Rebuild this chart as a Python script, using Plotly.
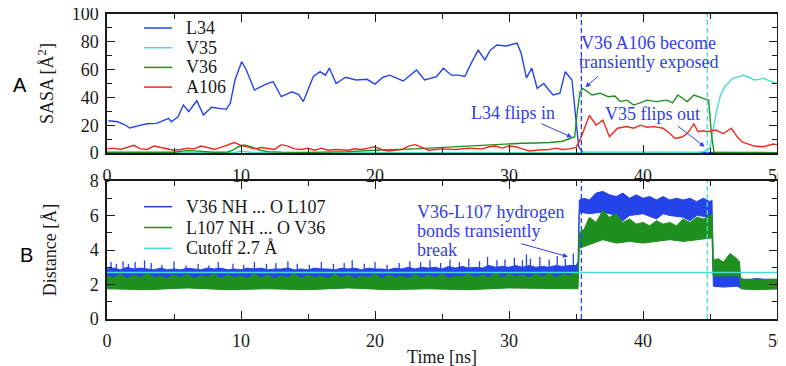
import plotly.graph_objects as go

# ---------------- Panel A: SASA (Å^2) vs time (ns) ----------------
l34_t = [0.1, 0.8, 1.3, 1.7, 2.3, 3.0, 3.7, 4.2, 4.6, 4.8, 5.3, 5.7, 6.1, 6.7, 7.2,
         7.8, 8.4, 8.9, 9.2, 9.55, 10.05, 10.4, 11.0, 11.7, 12.4, 13.0, 13.8, 14.3, 14.65, 15.0,
         15.4, 15.9, 16.3, 16.6, 17.1, 17.8, 18.6, 19.4, 20.0, 20.6, 21.1, 22.1, 23.1, 23.7, 24.6,
         25.1, 25.7, 26.2, 26.7, 27.2, 27.7, 28.2, 28.6, 29.1, 29.8, 30.6, 30.9, 31.3, 31.7, 32.1,
         32.6, 33.0, 33.3, 33.8, 34.2, 34.7, 34.9, 35.2, 35.5, 40.0, 45.0, 46.0, 50.0]
l34_v = [23.2, 22.5, 20.5, 18.0, 19.5, 21.0, 21.3, 23.5, 25.0, 22.5, 26.0, 34.5, 29.7, 37.6, 27.3,
         32.9, 32.0, 31.4, 35.8, 52.5, 65.7, 59.7, 45.3, 48.9, 51.3, 40.5, 44.0, 42.0, 37.0, 46.0,
         55.0, 58.5, 56.0, 61.0, 50.0, 54.5, 52.5, 53.0, 49.6, 54.5, 56.0, 51.8, 59.7, 52.5, 55.0,
         61.0, 56.0, 56.0, 55.0, 65.0, 74.0, 67.0, 74.0, 77.7, 77.0, 79.0, 72.0, 54.0, 61.0, 46.5,
         50.0, 45.0, 41.7, 43.0, 58.5, 52.5, 33.0, 4.5, 0.5, 0.3, 0.5, 0.3, 0.2]

v35_t = [0, 9.5, 10, 10.5, 11, 44, 44.5, 44.9, 45.0, 45.2, 45.5, 45.8, 46.1, 46.7, 47.1,
         47.5, 47.9, 48.3, 48.7, 49.0, 49.4, 49.7, 50]
v35_v = [0.2, 0.2, 1.2, 0.8, 0.2, 0.3, 1.0, 3.0, 4.0, 15, 31, 42, 47.7, 53.7, 55,
         56, 54.5, 52.5, 53, 53.7, 52, 51, 50]

v36_t = [0, 2, 4, 5, 5.5, 6, 6.5, 7, 8, 9, 9.4, 9.8, 10.2, 10.6, 11.0, 11.5, 12, 13, 15, 17,
         18, 20, 21, 22, 23, 24, 25, 26, 27, 28, 29, 30, 31, 32, 33, 34, 34.5, 34.9, 35.1, 35.3,
         35.5, 36.2, 36.8, 37.4, 37.9, 38.3, 38.8, 39.3, 39.8, 40.3, 41.0, 41.8, 42.2, 42.6, 43.0,
         43.3, 43.8, 44.2, 44.5, 44.9, 45.1, 45.3, 50]
v36_v = [0.5, 0.3, 0.3, 0.5, 1.2, 1.8, 1.5, 1.0, 0.5, 0.7, 2.0, 4.5, 5.8, 5.0, 3.5, 1.8, 1.0, 0.6, 0.4, 0.6,
         1.0, 2.0, 2.2, 2.5, 3.0, 3.5, 4.0, 4.5, 5.5, 6.0, 6.0, 6.5, 7.0, 7.2, 7.5, 8.5, 10.0, 11.7, 30.0, 44.0,
         46.5, 41.7, 43.0, 40.5, 41.0, 37.0, 38.0, 34.5, 36.0, 38.0, 37.0, 38.0, 36.0, 41.7, 39.0,
         37.0, 41.7, 40.0, 39.3, 38.0, 14.0, 0.5, 0.3]

a106_t = [0, 0.5, 1, 1.5, 2, 2.5, 3, 3.5, 4, 4.5, 5, 5.5, 6, 6.5, 7, 7.5, 8, 8.5, 9, 9.5,
          10, 10.5, 11, 11.5, 12, 12.5, 13, 13.5, 14, 14.5, 15, 15.5, 16, 16.5, 17, 18, 18.5, 19, 19.5, 20,
          20.5, 21, 22, 22.5, 23, 23.5, 24, 24.5, 25, 26, 27, 28, 28.5, 29, 29.5, 30, 30.5, 31, 31.5, 32,
          33, 33.5, 34, 34.5, 35, 35.3, 36.0, 36.5, 37.0, 37.5, 38.1, 38.8, 39.3, 39.8, 40.3,
          40.8, 41.5, 42.0, 42.4, 42.9, 43.3, 43.8, 44.1, 44.5, 44.8, 45.4, 46.0, 46.6, 47.0, 47.4,
          47.9, 48.3, 49.0, 49.4, 49.7, 50]
a106_v = [3, 3.5, 2.5, 4, 5.5, 3, 2.5, 5, 4, 3, 2, 2.5, 3.5, 3, 5, 4, 2.5, 4, 6, 7.5,
          5.5, 4, 3, 4, 3, 2.5, 6, 5, 3, 2.5, 3.5, 2, 3.5, 2, 2.5, 2, 3, 2.5, 3.5, 4.5,
          2.5, 1.5, 2.5, 5, 6, 4, 2, 2.5, 3, 2.5, 3.5, 3, 4.5, 5, 3.5, 5, 4.5, 3, 1.5, 2,
          2.5, 3.5, 2.5, 3, 4, 9.4, 27, 20, 23.7, 11.7, 17.8, 19, 17.8, 20, 18.5,
          19, 17.8, 14, 10.5, 11.5, 14, 20.9, 15.3, 16, 15.3, 16.5, 14, 17.8, 12, 8,
          6.5, 5, 4.5, 5.5, 6.5, 6]

# ---------------- Panel B: H-bond distances (Å), envelopes of noisy traces ----------------
hb1_up_t = [0, 0.5, 1, 1.5, 2, 2.5, 3, 3.5, 4, 4.5, 5, 5.5, 6, 6.5, 7, 7.5, 8, 8.5, 9, 9.5,
            10, 10.5, 11, 11.5, 12, 12.5, 13, 13.5, 14, 14.5, 15, 15.5, 16, 16.5, 17, 17.5, 18, 18.5, 19, 19.5,
            20, 20.5, 21, 21.5, 22, 22.5, 23, 23.5, 24, 24.5, 25, 25.5, 26, 26.5, 27, 27.5, 28, 28.5, 29, 29.5,
            30, 30.5, 31, 31.5, 32, 32.5, 33, 33.5, 34, 34.5, 35,
            35.15, 35.25, 35.6, 36, 36.5, 37, 37.5, 38, 38.5, 39, 39.5, 40, 40.5, 41, 41.5, 42, 42.5, 43, 43.5,
            44, 44.5, 45, 45.15, 45.25, 45.5, 46, 46.5, 47, 47.2, 47.5, 48, 48.5, 49, 49.5, 50]
hb1_up_v = [2.9, 2.95, 2.85, 3.0, 2.9, 2.95, 2.9, 2.85, 2.95, 2.85, 2.9, 2.85, 2.95, 2.9, 2.85, 2.95, 2.9, 2.95, 2.85, 2.9,
            2.85, 2.95, 2.9, 2.95, 2.85, 2.9, 2.9, 2.95, 2.85, 2.9, 2.85, 2.95, 2.9, 2.9, 2.85, 2.95, 2.9, 2.95, 2.85, 2.95,
            2.9, 2.9, 2.85, 2.95, 2.9, 3.0, 2.9, 3.0, 2.95, 3.0, 2.9, 3.05, 2.95, 3.05, 2.95, 3.0, 2.95, 3.1, 3.0, 3.05,
            3.0, 3.1, 3.0, 3.1, 3.0, 3.05, 3.0, 3.1, 3.05, 3.1, 3.1,
            3.3, 6.9, 7.0, 6.9, 7.3, 7.4, 7.2, 7.1, 7.3, 7.0, 7.2, 7.0, 7.1, 6.9, 7.1, 6.9, 7.0, 6.9, 7.0,
            6.8, 7.0, 6.8, 6.9, 2.6, 2.5, 2.6, 2.7, 2.6, 2.4, 2.3, 2.3, 2.35, 2.3, 2.3, 2.3]
hb1_lo_t = [0, 5, 10, 15, 20, 25, 30, 35.15, 35.25, 36, 37, 38, 38.5, 39, 40, 41, 41.5, 42, 43, 43.5,
            44, 45, 45.15, 45.25, 46, 47, 47.5, 50]
hb1_lo_v = [2.3, 2.2, 2.25, 2.2, 2.25, 2.2, 2.25, 2.25, 6.2, 6.1, 6.2, 6.0, 5.7, 6.0, 6.1, 5.8, 6.1, 6.0, 5.9, 5.7,
            6.0, 5.9, 5.9, 1.9, 1.85, 1.9, 1.75, 1.75]
# isolated upward excursions of the V36 NH ... O L107 trace
hb1_spk_base = 2.85
hb1_spk_t = [0.3, 0.7, 1.2, 1.6, 2.1, 2.8, 3.3, 4.1, 5.0, 5.9, 6.8, 7.6, 8.3, 9.4, 10.2, 11.0, 11.9, 12.6,
             13.5, 14.2, 15.1, 16.0, 16.9, 17.7, 18.3, 19.2, 20.0, 20.9, 21.8, 22.6, 23.4, 24.1, 24.9,
             25.6, 26.3, 27.0, 27.8, 28.4, 29.1, 29.7, 30.4, 31.0, 31.3, 31.6, 32.3, 33.0, 33.6, 34.2, 34.8]
hb1_spk_v = [3.3, 3.2, 3.35, 3.2, 3.3, 3.4, 3.25, 3.15, 3.35, 3.1, 3.2, 3.1, 3.3, 3.2, 3.15, 3.3, 3.2, 3.25,
             3.35, 3.2, 3.15, 3.3, 3.2, 3.25, 3.4, 3.2, 3.3, 3.15, 3.25, 3.35, 3.3, 3.4, 3.25,
             3.45, 3.3, 3.5, 3.35, 3.6, 3.4, 3.45, 3.55, 3.4, 3.75, 3.5, 3.6, 3.45, 3.65, 3.5, 3.8]

hb2_up_t = hb1_up_t[:71] + [35.15, 35.25, 35.6, 36, 36.5, 37, 37.5, 38, 38.5, 39, 39.5, 40, 40.5, 41, 41.5,
                            42, 42.5, 43, 43.5, 44, 44.5, 45, 45.15, 45.25, 45.6, 46, 46.5, 47, 47.2, 47.3,
                            48, 49, 50]
hb2_up_v = [2.5, 2.4, 2.6, 2.35, 2.55, 2.4, 2.65, 2.4, 2.5, 2.35, 2.55, 2.4, 2.6, 2.35, 2.5, 2.45, 2.6, 2.35, 2.55, 2.4,
            2.5, 2.35, 2.6, 2.4, 2.55, 2.35, 2.5, 2.4, 2.6, 2.35, 2.55, 2.4, 2.5, 2.35, 2.6, 2.4, 2.55, 2.35, 2.5, 2.4,
            2.6, 2.35, 2.55, 2.4, 2.5, 2.35, 2.6, 2.4, 2.55, 2.4, 2.6, 2.35, 2.5, 2.45, 2.6, 2.4, 2.55, 2.4, 2.65, 2.4,
            2.6, 2.45, 2.55, 2.4, 2.6, 2.45, 2.65, 2.4, 2.6, 2.5, 2.7,
            2.7, 5.0, 5.2, 5.9, 5.6, 6.3, 5.9, 6.1, 5.6, 5.8, 5.5, 5.6, 5.4, 5.7, 5.5,
            5.6, 5.4, 5.8, 5.6, 5.9, 5.8, 6.0, 6.1, 3.4, 3.5, 3.3, 3.8, 3.5, 3.3, 2.3,
            2.3, 2.3, 2.3]
hb2_lo_t = [0, 3, 6, 9, 12, 15, 18, 21, 24, 27, 30, 33, 35.15, 35.25, 36, 37, 38, 39, 40, 41,
            42, 43, 44, 45, 45.15, 45.25, 47.2, 47.3, 48.5, 50]
hb2_lo_v = [1.75, 1.7, 1.8, 1.7, 1.75, 1.7, 1.8, 1.7, 1.75, 1.7, 1.8, 1.75, 1.75, 4.1, 4.3, 4.6, 4.4, 4.5, 4.4, 4.5,
            4.6, 4.5, 4.6, 4.7, 4.7, 2.5, 2.5, 1.75, 1.7, 1.75]

cutoff_t = [0, 50]
cutoff_v = [2.7, 2.7]

event_t = [35.4, 44.8]          # dashed event markers (ns)

legend_a = ["L34", "V35", "V36", "A106"]
legend_b = ["V36 NH ... O L107", "L107 NH ... O V36", "Cutoff 2.7 Å"]

# ---------------- styling ----------------
BLUE = "#2444ea"
GREEN = "#1f8f1f"
RED = "#f0291c"
CYAN = "#46ddd0"
TXT = "#2f40ea"
AXC = "#1a1a1a"
SERIF = "Liberation Serif"
BODY = 8                      # default page margin of the html body
W, H = 786, 366
ML, MT = 107 - BODY, 14 - BODY
PW, PH = 670, 305
MR = W - ML - PW
MB = H - MT - PH


def px(xp):
    return (xp - 107) / PW


def py(yp):
    return (319 - yp) / PH


fig = go.Figure()

colors_a = [BLUE, CYAN, GREEN, RED]
for name, t, v, c in zip(legend_a, [l34_t, v35_t, v36_t, a106_t], [l34_v, v35_v, v36_v, a106_v], colors_a):
    fig.add_trace(go.Scatter(x=t, y=v, mode="lines", name=name, showlegend=False,
                             line=dict(color=c, width=1.4), xaxis="x", yaxis="y"))

spk_x, spk_y = [], []
for t, v in zip(hb1_spk_t, hb1_spk_v):
    spk_x += [t, t, None]
    spk_y += [hb1_spk_base, v, None]

for lo_t, lo_v, up_t, up_v, c, name in [(hb1_lo_t, hb1_lo_v, hb1_up_t, hb1_up_v, BLUE, legend_b[0]),
                                         (hb2_lo_t, hb2_lo_v, hb2_up_t, hb2_up_v, GREEN, legend_b[1])]:
    if c == BLUE:
        fig.add_trace(go.Scatter(x=spk_x, y=spk_y, mode="lines", showlegend=False,
                                 line=dict(color=c, width=1.3), xaxis="x2", yaxis="y2"))
    fig.add_trace(go.Scatter(x=lo_t, y=lo_v, mode="lines", showlegend=False,
                             line=dict(color=c, width=1), xaxis="x2", yaxis="y2"))
    fig.add_trace(go.Scatter(x=up_t, y=up_v, mode="lines", name=name, showlegend=False, fill="tonexty",
                             fillcolor=c, line=dict(color=c, width=1), xaxis="x2", yaxis="y2"))

fig.add_trace(go.Scatter(x=cutoff_t, y=cutoff_v, mode="lines", name=legend_b[2], showlegend=False,
                         line=dict(color=CYAN, width=1.6), xaxis="x2", yaxis="y2"))

# event markers
shapes = []
for xa, ya in [("x", "y"), ("x2", "y2")]:
    for t, c in zip(event_t, [BLUE, CYAN]):
        shapes.append(dict(type="line", xref=xa, yref=ya + " domain", x0=t, x1=t, y0=0, y1=1,
                           line=dict(color=c, width=1.3, dash="5px,3px")))

annotations = []
# manual legends
for i, (name, c) in enumerate(zip(legend_a, colors_a)):
    yc = py(28 + 19.7 * i)
    shapes.append(dict(type="line", xref="paper", yref="paper", x0=px(144), x1=px(172), y0=yc, y1=yc,
                       line=dict(color=c, width=1.5)))
    annotations.append(dict(xref="paper", yref="paper", x=px(184), y=yc, text=name, showarrow=False,
                            xanchor="left", yanchor="middle", font=dict(family=SERIF, size=18, color=AXC)))
for i, (name, c) in enumerate(zip(legend_b, [BLUE, GREEN, CYAN])):
    yc = py(206.7 + 20.8 * i)
    shapes.append(dict(type="line", xref="paper", yref="paper", x0=px(144), x1=px(172), y0=yc, y1=yc,
                       line=dict(color=c, width=1.5)))
    annotations.append(dict(xref="paper", yref="paper", x=px(184), y=yc, text=name, showarrow=False,
                            xanchor="left", yanchor="middle", font=dict(family=SERIF, size=18, color=AXC)))

# text callouts (one annotation per line)
tf = dict(family=SERIF, size=18, color=TXT)
for txt, x, y, xr, yr, anc in [
    ("V36 A106 become", 40.4, 79.5, "x", "y", "center"),
    ("transiently exposed", 40.4, 65.8, "x", "y", "center"),
    ("L34 flips in", 30.3, 28.8, "x", "y", "center"),
    ("V35 flips out", 40.7, 28.0, "x", "y", "center"),
    ("V36-L107 hydrogen", 23.0, 6.2, "x2", "y2", "left"),
    ("bonds transiently", 23.0, 5.1, "x2", "y2", "left"),
    ("break", 23.0, 4.0, "x2", "y2", "left"),
]:
    annotations.append(dict(xref=xr, yref=yr, x=x, y=y, text=txt, showarrow=False, xanchor=anc,
                            yanchor="middle", font=tf))

for (x0, y0, x1, y1, xr, yr) in [(36.75, 56.1, 35.7, 47.3, "x", "y"),
                                 (32.3, 21.6, 34.7, 11.3, "x", "y"),
                                 (42.5, 20.1, 44.6, 4.5, "x", "y"),
                                 (30.8, 4.39, 34.4, 3.61, "x2", "y2")]:
    annotations.append(dict(xref=xr, yref=yr, axref=xr, ayref=yr, x=x1, y=y1, ax=x0, ay=y0, text="",
                            showarrow=True, arrowhead=2, arrowsize=1, arrowwidth=1, arrowcolor=TXT))

# panel letters
annotations.append(dict(xref="paper", yref="paper", x=px(20), y=py(85), text="A", showarrow=False,
                        xanchor="center", yanchor="middle",
                        font=dict(family="Liberation Sans", size=20, color="black")))
annotations.append(dict(xref="paper", yref="paper", x=px(26), y=py(255), text="B", showarrow=False,
                        xanchor="center", yanchor="middle",
                        font=dict(family="Liberation Sans", size=20, color="black")))

axis_common = dict(showline=True, linecolor=AXC, linewidth=1.5, mirror="allticks", ticks="inside",
                   ticklen=8, tickwidth=1.3, tickcolor=AXC, showgrid=False, zeroline=False,
                   ticklabelstandoff=3, automargin=False, ticklabeloverflow="allow",
                   tickfont=dict(family=SERIF, size=18, color=AXC))

top_bottom = py(153)
bot_top = py(181)

fig.update_layout(
    width=W, height=H, margin=dict(l=ML, r=MR, t=MT, b=MB, autoexpand=False),
    paper_bgcolor="white", plot_bgcolor="white", showlegend=False,
    xaxis=dict(axis_common, domain=[0, 1], anchor="y", range=[0, 50], tick0=0, dtick=10,
               ticklabelstandoff=6,
               minor=dict(ticks="inside", ticklen=5, dtick=5, tickcolor=AXC, tickwidth=1.2)),
    yaxis=dict(axis_common, domain=[top_bottom, 1], anchor="x", range=[0, 100], tick0=0, dtick=20,
               minor=dict(ticks="inside", ticklen=5, dtick=10, tickcolor=AXC, tickwidth=1.2),
               title=dict(text="SASA [Å<sup>2</sup>]", font=dict(family=SERIF, size=18, color=AXC), standoff=13)),
    xaxis2=dict(axis_common, domain=[0, 1], anchor="y2", range=[0, 50], tick0=0, dtick=10,
                ticklabelstandoff=5,
                minor=dict(ticks="inside", ticklen=5, dtick=5, tickcolor=AXC, tickwidth=1.2),
                title=dict(text="Time [ns]", font=dict(family=SERIF, size=18, color=AXC), standoff=0)),
    yaxis2=dict(axis_common, domain=[0, bot_top], anchor="x2", range=[0, 8], tick0=0, dtick=2,
                minor=dict(ticks="inside", ticklen=5, dtick=1, tickcolor=AXC, tickwidth=1.2),
                title=dict(text="Distance [Å]", font=dict(family=SERIF, size=18, color=AXC), standoff=28)),
    shapes=shapes, annotations=annotations,
)

fig.write_html("out.html")
